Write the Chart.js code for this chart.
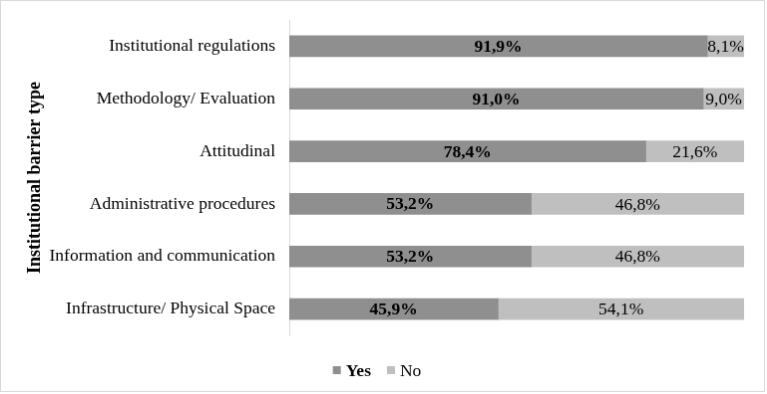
<!DOCTYPE html>
<html>
<head>
<meta charset="utf-8">
<script src="https://cdn.jsdelivr.net/npm/chart.js@4"></script>
<style>
  body { margin: 0; background: #fff; }
  #chart { border: 1px solid #d9d9d9; display: block; }
</style>
</head>
<body>
<canvas id="chart" width="765" height="392"></canvas>
<script>
const categories = [
    'Institutional regulations',
    'Methodology/ Evaluation',
    'Attitudinal',
    'Administrative procedures',
    'Information and communication',
    'Infrastructure/ Physical Space'
];
const yesValues = [91.9, 91.0, 78.4, 53.2, 53.2, 45.9];
const noValues = [8.1, 9.0, 21.6, 46.8, 46.8, 54.1];
const seriesNames = ['Yes', 'No'];
const axisTitle = 'Institutional barrier type';

const FONT = "'Liberation Serif', 'Times New Roman', serif";
const YES_COLOR = '#8f8f8f';
const NO_COLOR = '#bfbfbf';

function fmt(v) {
    return v.toFixed(1).replace('.', ',') + '%';
}

// value labels centered in each bar segment
const barLabels = {
    id: 'barLabels',
    afterDatasetsDraw(chart) {
        const ctx = chart.ctx;
        ctx.save();
        ctx.textAlign = 'center';
        ctx.textBaseline = 'middle';
        ctx.fillStyle = '#000';
        chart.data.datasets.forEach((ds, i) => {
            const meta = chart.getDatasetMeta(i);
            ctx.font = (i === 0 ? 'bold ' : '') + '17.5px ' + FONT;
            meta.data.forEach((bar, j) => {
                const x = (bar.x + bar.base) / 2;
                ctx.fillText(fmt(ds.data[j]), x, bar.y + 1);
            });
        });
        ctx.restore();
    }
};

// legend at bottom: "Yes" bold, "No" normal
const bottomLegend = {
    id: 'bottomLegend',
    afterDraw(chart) {
        const ctx = chart.ctx;
        const y = 371;
        const box = 8;
        ctx.save();
        ctx.textBaseline = 'middle';
        ctx.textAlign = 'left';
        const items = chart.data.datasets.map((ds, i) => {
            ctx.font = (i === 0 ? 'bold ' : '') + '17.5px ' + FONT;
            return {text: ds.label, color: ds.backgroundColor, font: ctx.font, w: ctx.measureText(ds.label).width};
        });
        const gap = 5, spacing = 16;
        let total = 0;
        items.forEach((it, i) => { total += box + gap + it.w + (i < items.length - 1 ? spacing : 0); });
        let x = 377 - total / 2;
        items.forEach(it => {
            ctx.fillStyle = it.color;
            ctx.fillRect(x, y - box / 2, box, box);
            x += box + gap;
            ctx.font = it.font;
            ctx.fillStyle = '#000';
            ctx.fillText(it.text, x, y + 1);
            x += it.w + spacing;
        });
        ctx.restore();
    }
};

new Chart(document.getElementById('chart'), {
    type: 'bar',
    data: {
        labels: categories,
        datasets: [
            {label: seriesNames[0], data: yesValues, backgroundColor: YES_COLOR, barThickness: 21},
            {label: seriesNames[1], data: noValues, backgroundColor: NO_COLOR, barThickness: 21}
        ]
    },
    options: {
        indexAxis: 'y',
        responsive: false,
        animation: false,
        layout: {padding: {top: 19, right: 20, bottom: 56, left: 0}},
        plugins: {
            legend: {display: false},
            tooltip: {enabled: false}
        },
        scales: {
            x: {
                stacked: true,
                display: false,
                min: 0,
                max: 100
            },
            y: {
                stacked: true,
                grid: {display: false, drawTicks: false},
                border: {display: true, color: '#d9d9d9', width: 1},
                ticks: {
                    color: '#000',
                    padding: 14,
                    font: {family: FONT, size: 17.5}
                },
                title: {
                    display: true,
                    text: axisTitle,
                    color: '#000',
                    padding: {top: 24, bottom: 0},
                    font: {family: FONT, size: 18, weight: 'bold'}
                },
                afterFit(scale) {
                    scale.width = 289;
                    scale.paddingTop = 0;
                    scale.paddingBottom = 0;
                }
            }
        }
    },
    plugins: [barLabels, bottomLegend]
});
</script>
</body>
</html>
